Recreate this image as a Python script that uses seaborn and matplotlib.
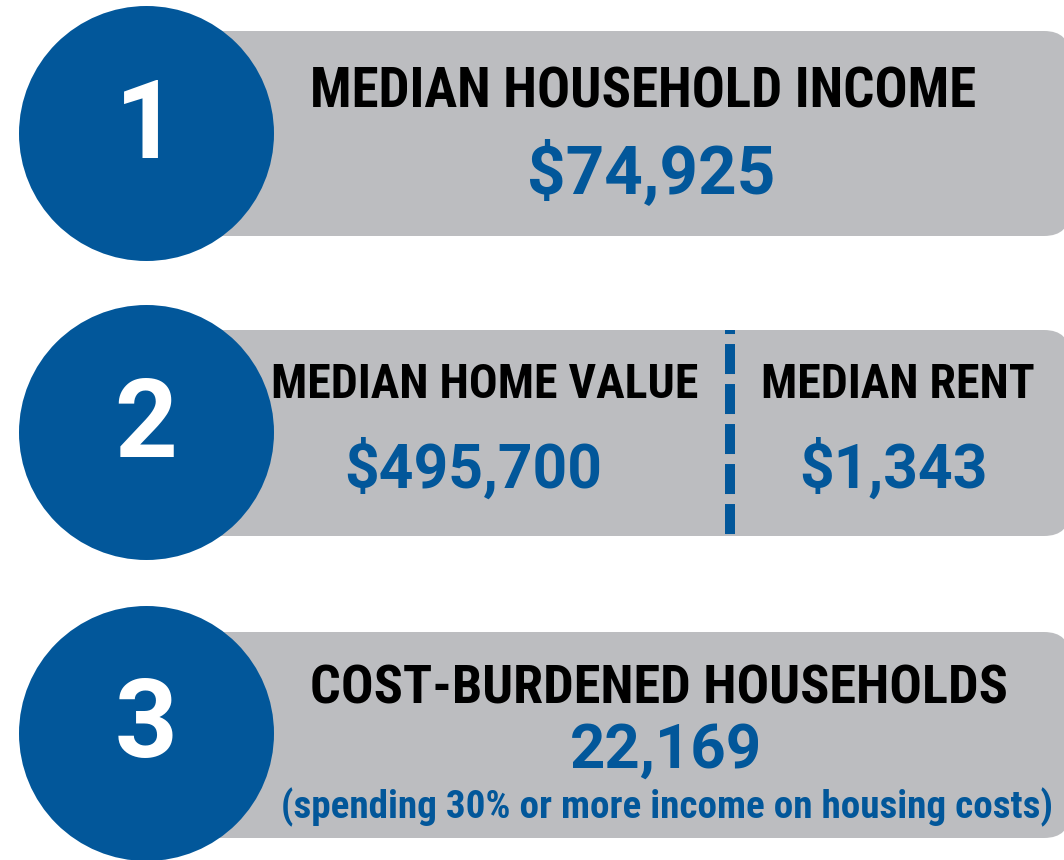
import pandas as pd
import seaborn as sns
import matplotlib.pyplot as plt
from matplotlib import font_manager
from matplotlib.patches import FancyBboxPatch

# ---- data ----
step_numbers = ['1', '2', '3']
headings = ['MEDIAN HOUSEHOLD INCOME', 'MEDIAN HOME VALUE', 'MEDIAN RENT',
            'COST-BURDENED HOUSEHOLDS']
median_income = 74925
median_home_value = 495700
median_rent = 1343
cost_burdened = 22169
cost_burdened_note = '(spending 30% or more income on housing costs)'

# ---- style ----
BLUE = '#02579A'
GRAY = '#BCBDC0'

sns.set_theme(style='white')
plt.rcParams['lines.scale_dashes'] = False

names = {f.name for f in font_manager.fontManager.ttflist}
cond_font = next((n for n in ['Roboto Condensed', 'Liberation Sans Narrow', 'DejaVu Sans']
                  if n in names), 'DejaVu Sans')
bold_font = next((n for n in ['Roboto', 'Liberation Sans', 'DejaVu Sans'] if n in names),
                 'DejaVu Sans')

fig = plt.figure(figsize=(10.64, 8.60), dpi=100)
ax = fig.add_axes([0, 0, 1, 1])

# rows: circle centre y, bar top, bar bottom
rows = [(133, 31, 236), (432, 330, 536), (733, 632, 838)]

# grey bars with rounded right end
for cy, top, bottom in rows:
    ax.add_patch(FancyBboxPatch((150, top), 920, bottom - top,
                                boxstyle='round,pad=0,rounding_size=26',
                                facecolor=GRAY, edgecolor='none', zorder=1))

# blue number circles
circles = pd.DataFrame({'x': [145.5] * 3, 'y': [r[0] for r in rows]})
sns.scatterplot(data=circles, x='x', y='y', s=(255 * 0.72) ** 2, color=BLUE,
                linewidth=0, ax=ax, zorder=3, legend=False)
ax.set_xlim(0, 1064)
ax.set_ylim(860, 0)
ax.axis('off')

for num, base in zip(step_numbers, [158, 457, 757]):
    ax.text(146, base, num, color='white', fontsize=79, fontweight='bold',
            family=bold_font, ha='center', va='baseline', zorder=4)

# dashed divider in row 2
ax.vlines(730, 330, 535, color=BLUE, linewidth=7.2,
          linestyle=(18.7, (21.6, 7.2)), capstyle='butt', zorder=2)

head_kw = dict(color='black', fontweight='bold', family=cond_font,
               fontstretch='condensed', ha='center', va='baseline', zorder=4)
val_kw = dict(color=BLUE, fontweight='bold', family=bold_font,
              ha='center', va='baseline', zorder=4)

# row 1
ax.text(643, 108, headings[0], fontsize=39.5, **head_kw)
ax.text(651, 193, f'${median_income:,}', fontsize=48.5, **val_kw)

# row 2
ax.text(485, 398, headings[1], fontsize=34.4, **head_kw)
ax.text(473, 488, f'${median_home_value:,}', fontsize=43.6, **val_kw)
ax.text(898, 398, headings[2], fontsize=34.4, **head_kw)
ax.text(893, 488, f'${median_rent:,}', fontsize=43.6, **val_kw)

# row 3
ax.text(659, 703, headings[3], fontsize=39, **head_kw)
ax.text(666, 768, f'{cost_burdened:,}', fontsize=44.5, **val_kw)
ax.text(667, 818, cost_burdened_note, color=BLUE, fontsize=28.2, fontweight='bold',
        family=cond_font, fontstretch='condensed', ha='center', va='baseline', zorder=4)

fig.savefig('out.png', dpi=100)
